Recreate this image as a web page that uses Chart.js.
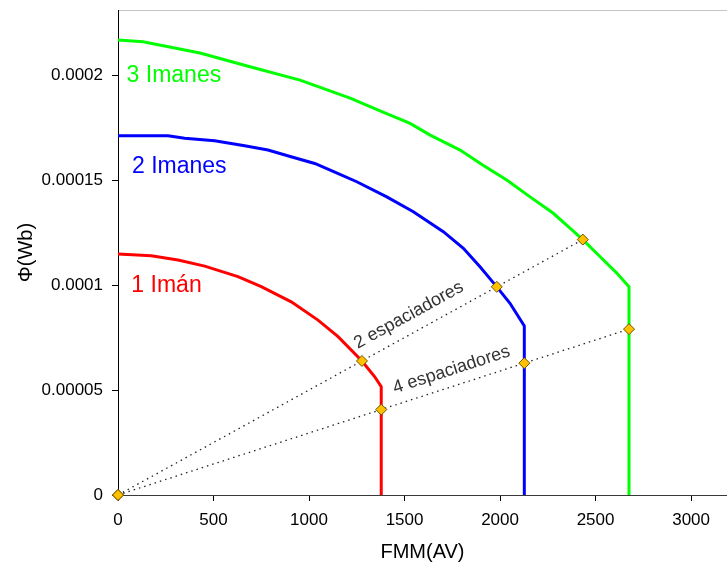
<!DOCTYPE html>
<html>
<head>
<meta charset="utf-8">
<script src="https://cdn.jsdelivr.net/npm/chart.js@4/dist/chart.umd.min.js"></script>
<style>
  html, body { margin: 0; padding: 0; background: #ffffff; overflow: hidden; }
  canvas { display: block; }
</style>
</head>
<body>
<canvas id="c" width="727" height="571"></canvas>
<script>
// Demagnetisation curves: flux (Wb) vs. magnetomotive force (AV)
const fmmOneMagnet  = [0, 174, 314, 454, 628, 750, 907, 1047, 1152, 1277, 1344, 1378, 1378];
const fluxOneMagnet = [1.148e-4, 1.140e-4, 1.119e-4, 1.090e-4, 1.040e-4, 9.92e-5, 9.20e-5, 8.33e-5, 7.54e-5, 6.385e-5, 5.63e-5, 5.16e-5, 0];

const fmmTwoMagnets  = [0, 262, 349, 506, 663, 785, 906, 1030, 1141, 1250, 1407, 1546, 1703, 1808, 1895, 1983, 2052, 2127, 2127];
const fluxTwoMagnets = [1.711e-4, 1.711e-4, 1.699e-4, 1.687e-4, 1.663e-4, 1.643e-4, 1.611e-4, 1.579e-4, 1.535e-4, 1.492e-4, 1.420e-4, 1.349e-4, 1.254e-4, 1.175e-4, 1.087e-4, 9.915e-5, 9.13e-5, 8.05e-5, 0];

const fmmThreeMagnets  = [0, 131, 429, 691, 953, 1215, 1372, 1529, 1634, 1791, 1911, 2035, 2157, 2277, 2366, 2433, 2524, 2611, 2675, 2675];
const fluxThreeMagnets = [2.167e-4, 2.159e-4, 2.105e-4, 2.040e-4, 1.976e-4, 1.890e-4, 1.830e-4, 1.770e-4, 1.714e-4, 1.643e-4, 1.571e-4, 1.500e-4, 1.420e-4, 1.343e-4, 1.271e-4, 1.2165e-4, 1.135e-4, 1.057e-4, 9.92e-5, 0];

// Load lines of the magnetic circuit (through the origin) and operating points
const fmmTwoSpacers  = [0, 1277, 1983, 2433];
const fluxTwoSpacers = [0, 6.385e-5, 9.915e-5, 1.2165e-4];
const fmmFourSpacers  = [0, 1378, 2127, 2675];
const fluxFourSpacers = [0, 4.07e-5, 6.28e-5, 7.9e-5];

// Axes
const xTickValues = [0, 500, 1000, 1500, 2000, 2500, 3000];
const xTickLabels = ['0', '500', '1000', '1500', '2000', '2500', '3000'];
const yTickValues = [0, 0.00005, 0.0001, 0.00015, 0.0002];
const yTickLabels = ['0', '0.00005', '0.0001', '0.00015', '0.0002'];
const xMax = 3188;
const yMax = 0.000231;

const pts = (xs, ys) => xs.map((x, i) => ({ x: x, y: ys[i] }));

// Curve names, written next to the start of each curve
const curveLabels = [
  { text: '3 Imanes', x: 45, y: 1.966e-4, color: '#00ff00' },
  { text: '2 Imanes', x: 73, y: 1.535e-4, color: '#0000ff' },
  { text: '1 Imán',   x: 70, y: 0.968e-4, color: '#ff0000' }
];
// Load-line names, written along each line
const lineLabels = [
  { text: '2 espaciadores', xs: fmmTwoSpacers, ys: fluxTwoSpacers, at: 1566, offset: 12.5 },
  { text: '4 espaciadores', xs: fmmFourSpacers, ys: fluxFourSpacers, at: 1772, offset: 11 }
];

const annotate = {
  id: 'annotate',
  beforeDraw(chart) {
    const { ctx, chartArea: a } = chart;
    ctx.save();
    ctx.strokeStyle = '#c4c4c4';
    ctx.lineWidth = 1;
    ctx.beginPath();
    ctx.moveTo(a.left, a.top + 0.5);
    ctx.lineTo(a.right, a.top + 0.5);
    ctx.stroke();
    ctx.restore();
  },
  afterDatasetsDraw(chart) {
    const { ctx } = chart;
    const xs = chart.scales.x, ys = chart.scales.y;
    ctx.save();
    ctx.font = '23px "Liberation Sans", Arial, sans-serif';
    ctx.textAlign = 'left';
    ctx.textBaseline = 'alphabetic';
    curveLabels.forEach(l => {
      ctx.fillStyle = l.color;
      ctx.fillText(l.text, xs.getPixelForValue(l.x), ys.getPixelForValue(l.y));
    });
    ctx.font = '18px "Liberation Sans", Arial, sans-serif';
    ctx.fillStyle = '#333333';
    ctx.textAlign = 'center';
    lineLabels.forEach(l => {
      const n = l.xs.length - 1;
      const slope = l.ys[n] / l.xs[n];
      const px0 = xs.getPixelForValue(0), py0 = ys.getPixelForValue(0);
      const px1 = xs.getPixelForValue(l.xs[n]), py1 = ys.getPixelForValue(l.ys[n]);
      const ang = Math.atan2(py1 - py0, px1 - px0);
      const fx = xs.getPixelForValue(l.at), fy = ys.getPixelForValue(l.at * slope);
      const ox = Math.sin(ang) * l.offset, oy = -Math.cos(ang) * l.offset;
      ctx.save();
      ctx.translate(fx + ox, fy + oy);
      ctx.rotate(ang);
      ctx.fillText(l.text, 0, 0);
      ctx.restore();
    });
    ctx.restore();
  }
};

const curve = (xs, ys, color) => ({
  data: pts(xs, ys), showLine: true, borderColor: color, borderWidth: 3,
  pointRadius: 0, tension: 0, fill: false, order: 2
});
const loadLine = (xs, ys) => ({
  data: pts(xs, ys), showLine: true, borderColor: '#222222', borderWidth: 1.3,
  borderDash: [1.5, 4], pointRadius: 0, fill: false, order: 3
});
const markers = (xs, ys) => ({
  data: pts(xs, ys), showLine: false, pointStyle: 'rectRot', pointRadius: 5.5,
  pointBackgroundColor: '#ffc000', pointBorderColor: '#6b5200', pointBorderWidth: 1,
  order: 1, clip: false
});

new Chart(document.getElementById('c'), {
  type: 'scatter',
  data: {
    datasets: [
      loadLine(fmmTwoSpacers, fluxTwoSpacers),
      loadLine(fmmFourSpacers, fluxFourSpacers),
      curve(fmmOneMagnet, fluxOneMagnet, '#ff0000'),
      curve(fmmTwoMagnets, fluxTwoMagnets, '#0000ff'),
      curve(fmmThreeMagnets, fluxThreeMagnets, '#00ff00'),
      markers(fmmTwoSpacers, fluxTwoSpacers),
      markers(fmmFourSpacers, fluxFourSpacers)
    ]
  },
  options: {
    responsive: false,
    devicePixelRatio: 1,
    animation: false,
    layout: { autoPadding: false, padding: { top: 10, right: 0, bottom: 0, left: 0 } },
    plugins: { legend: { display: false }, tooltip: { enabled: false } },
    scales: {
      x: {
        type: 'linear', min: 0, max: xMax,
        afterBuildTicks: s => { s.ticks = xTickValues.map(v => ({ value: v })); },
        afterFit: s => { s.height = 76; s.paddingLeft = 0; s.paddingRight = 0; },
        ticks: {
          padding: 9, color: '#000000', maxRotation: 0, autoSkip: false,
          font: { family: '"Liberation Sans", Arial, sans-serif', size: 17 },
          callback: (v, i) => xTickLabels[i]
        },
        grid: { display: true, drawOnChartArea: false, drawTicks: true, tickLength: 6, tickColor: '#000000' },
        border: { display: true, color: '#3a3a3a', width: 1 },
        title: {
          display: true, text: 'FMM(AV)', color: '#000000',
          font: { family: '"Liberation Sans", Arial, sans-serif', size: 20 },
          padding: { top: 0, bottom: 7 }
        }
      },
      y: {
        type: 'linear', min: 0, max: yMax,
        afterBuildTicks: s => { s.ticks = yTickValues.map(v => ({ value: v })); },
        afterFit: s => { s.width = 118; s.paddingTop = 0; s.paddingBottom = 0; },
        ticks: {
          padding: 9, color: '#000000', autoSkip: false,
          font: { family: '"Liberation Sans", Arial, sans-serif', size: 17 },
          callback: (v, i) => yTickLabels[i]
        },
        grid: { display: true, drawOnChartArea: false, drawTicks: true, tickLength: 6, tickColor: '#000000' },
        border: { display: true, color: '#000000', width: 1 },
        title: {
          display: true, text: 'Φ(Wb)', color: '#000000',
          font: { family: '"Liberation Sans", Arial, sans-serif', size: 20 },
          padding: { top: 14, bottom: 0 }
        }
      }
    }
  },
  plugins: [annotate]
});
</script>
</body>
</html>
